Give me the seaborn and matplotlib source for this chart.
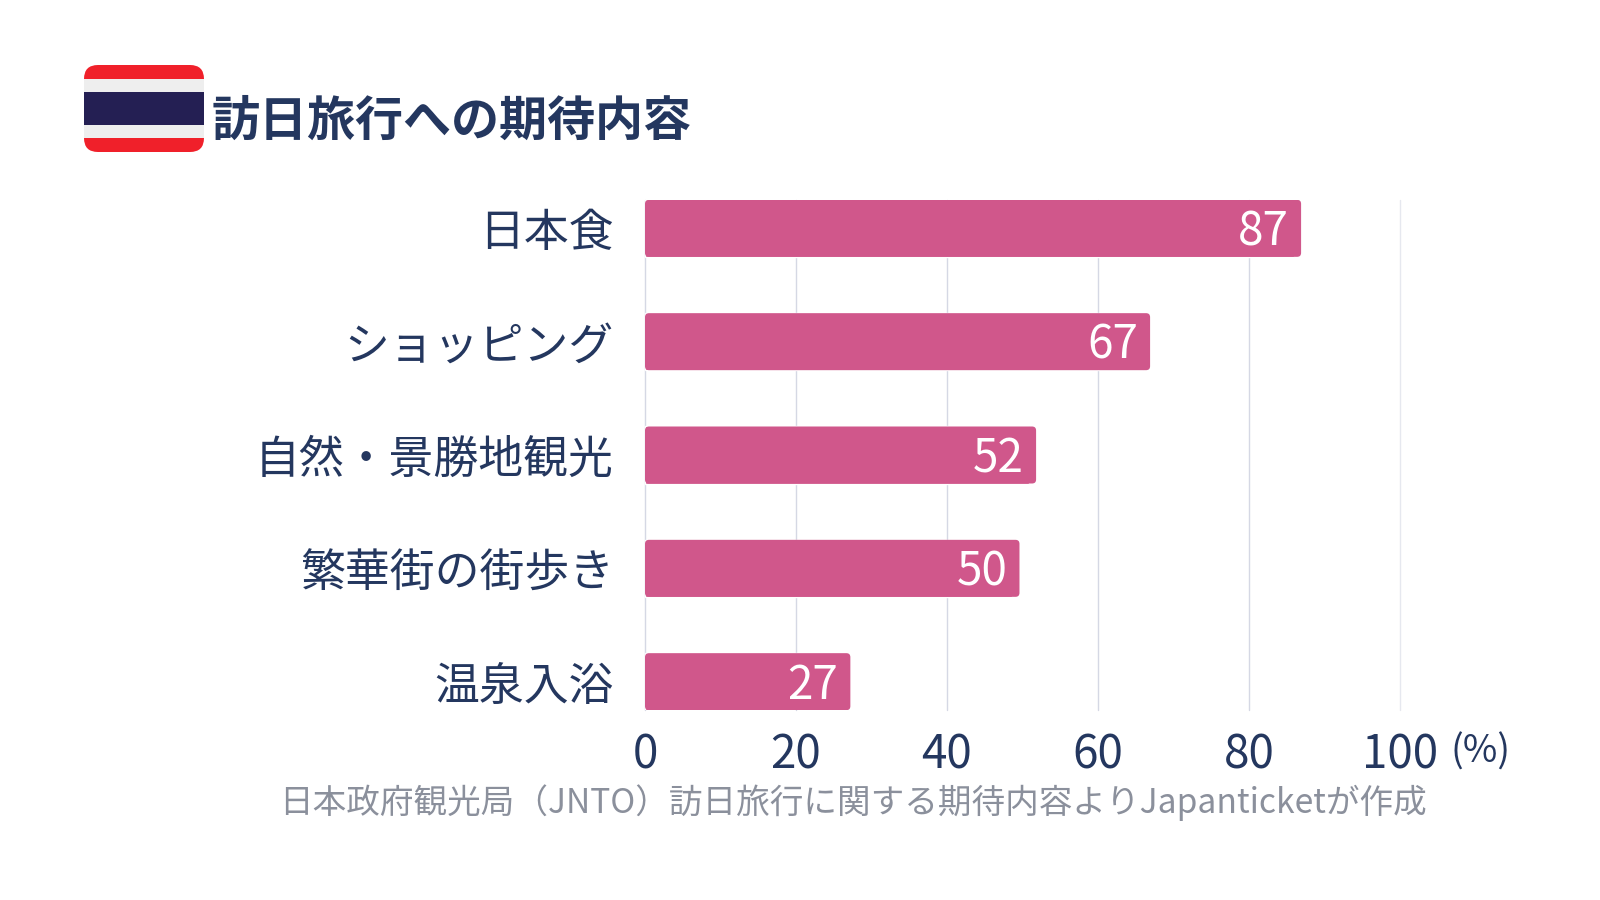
import matplotlib
matplotlib.use('Agg')
import matplotlib.pyplot as plt
from matplotlib.patches import FancyBboxPatch, Rectangle
import pandas as pd
import seaborn as sns

categories = ['日本食', 'ショッピング', '自然・景勝地観光', '繁華街の街歩き', '温泉入浴']
# bar lengths as measured, labels show them rounded
values = [86.9, 66.9, 51.8, 49.6, 27.2]
x_ticks = [0, 20, 40, 60, 80, 100]

NAVY = '#24375f'
BAR = '#d0578b'

sns.set_theme(style='white')
plt.rcParams['font.family'] = ['Noto Sans CJK JP', 'DejaVu Sans']

df = pd.DataFrame({'item': categories, 'value': values})

fig = plt.figure(figsize=(16, 9), dpi=100, facecolor='white')
# axes area in px: x 645-1400, y 200-710
ax = fig.add_axes([645 / 1600, 1 - 710 / 900, 755 / 1600, 510 / 900])
sns.barplot(data=df, x='value', y='item', color=BAR, saturation=1, width=0.503, ax=ax, zorder=3)

ax.set_xlim(0, 100)
ax.set_ylim(4.25, -0.25)
ax.set_xticks(x_ticks)
ax.set_xlabel('')
ax.set_ylabel('')
ax.grid(axis='x', color='#d5d8e4', linewidth=1)
ax.get_xgridlines()[-1].set_color('#e6e8ef')
for line in ax.get_xgridlines():
    line.set_clip_on(False)
ax.set_axisbelow(True)
sns.despine(ax=ax, left=True, bottom=True, top=True, right=True)
ax.tick_params(axis='x', length=0, labelsize=33, labelcolor=NAVY, pad=15)
ax.tick_params(axis='y', length=0, labelsize=32.3, labelcolor=NAVY, pad=22.5)

# round the right end of each bar, left end stays square
x_per_px = 100 / 755
y_per_px = 4.5 / 510
for bar in list(ax.patches):
    x0, y0, w, h = bar.get_x(), bar.get_y(), bar.get_width(), bar.get_height()
    ax.add_patch(FancyBboxPatch((x0, y0), w, h, boxstyle=f'round,pad=0,rounding_size={4 * x_per_px}',
                                mutation_aspect=y_per_px / x_per_px, fc=BAR, ec='none', zorder=3))
    bar.set_width(w - 1)

for i, v in enumerate(values):
    ax.text(v - 1.6, i + 0.035, f'{v:.0f}', color='white', fontsize=33, ha='right', va='center', zorder=4)

fig.text(1450 / 1600, 1 - 752 / 900, '(%)', color=NAVY, fontsize=27, ha='left', va='center')
fig.text(853 / 1600, 1 - 803 / 900, '日本政府観光局（JNTO）訪日旅行に関する期待内容よりJapanticketが作成',
         color='#8b909c', fontsize=24.2, ha='center', va='center')
fig.text(212 / 1600, 1 - 121 / 900, '訪日旅行への期待内容', color=NAVY, fontsize=34.6,
         fontweight='bold', ha='left', va='center')

# flag icon
flag = fig.add_axes([0, 0, 1, 1], zorder=5)
flag.set_xlim(0, 1600)
flag.set_ylim(900, 0)
flag.axis('off')
clip = FancyBboxPatch((84 + 14, 65 + 14), 120 - 28, 87 - 28, boxstyle='round,pad=14', fc='none', ec='none')
flag.add_patch(clip)
for y, h, c in [(65, 87, '#f0202a'), (79, 59, '#eeeeee'), (92, 33, '#241f53')]:
    r = Rectangle((84, y), 120, h, fc=c, ec='none')
    flag.add_patch(r)
    r.set_clip_path(clip)

fig.savefig('out.png', dpi=100)
